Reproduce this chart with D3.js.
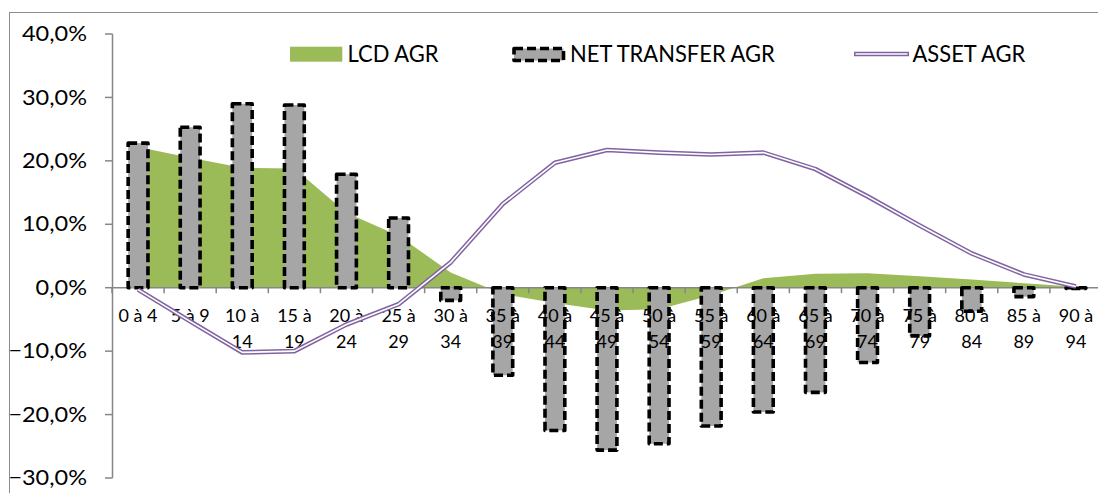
<!DOCTYPE html>
<html>
<head>
<meta charset="utf-8">
<script src="https://cdn.jsdelivr.net/npm/d3@7"></script>
<style>
html,body{margin:0;padding:0;background:#fff;overflow:hidden;}
svg{display:block;}
</style>
</head>
<body>
<svg id="chart" width="1098" height="493"></svg>
<script>
const categories = ["0 à 4","5 à 9","10 à 14","15 à 19","20 à 24","25 à 29","30 à 34","35 à 39","40 à 44","45 à 49","50 à 54","55 à 59","60 à 64","65 à 69","70 à 74","75 à 79","80 à 84","85 à 89","90 à 94"];
const lcdAgr = [22.2,20.5,18.9,18.8,11.8,8.2,2.4,-1.0,-2.4,-3.6,-3.4,-1.2,1.5,2.2,2.3,1.8,1.3,0.7,0.15];
const netTransferAgr = [22.8,25.3,29.0,28.8,17.9,11.0,-2.0,-13.8,-22.5,-25.6,-24.6,-21.8,-19.6,-16.5,-11.8,-7.6,-3.7,-1.4,-0.1];
const assetAgr = [-0.3,-5.3,-10.2,-10.0,-5.8,-2.6,4.0,13.2,19.7,21.7,21.3,21.0,21.3,18.7,14.4,9.8,5.4,2.1,0.2];
const yTicks = [-30,-20,-10,0,10,20,30,40];
const seriesNames = ["LCD AGR","NET TRANSFER AGR","ASSET AGR"];

const FONT = "Lato, 'Open Sans', sans-serif";
const GREEN = "#9BBB59", GREY = "#A6A6A6", PURPLE = "#8064A2", AXIS = "#868686";

const svg = d3.select("#chart");

const x = d3.scaleBand().domain(categories).range([112, 1102]).paddingInner(0).paddingOuter(0);
const y = d3.scaleLinear().domain([-30, 40]).range([478, 34]);
const cx = d => x(d) + x.bandwidth() / 2;

function scaleFor(size, ref, refW) {
  const p = svg.append("text").attr("font-family", FONT).attr("font-size", size).text(ref);
  const w = p.node().getComputedTextLength();
  p.remove();
  return refW / w;
}
function txt(g, s, tx, ty, size, sx, anchor) {
  return g.append("text")
    .attr("transform", `translate(${tx},${ty}) scale(${sx},1)`)
    .attr("font-family", FONT).attr("font-size", size)
    .attr("text-anchor", anchor).attr("fill", "#000").text(s);
}

// frame
svg.append("rect").attr("x", 9.5).attr("y", 12.5).attr("width", 1200).attr("height", 600)
  .attr("fill", "none").attr("stroke", "#8c8c8c").attr("stroke-width", 1);

// area (LCD AGR)
const area = d3.area().x((d, i) => cx(categories[i])).y0(y(0)).y1(d => y(d));
svg.append("path").datum(lcdAgr).attr("d", area).attr("fill", GREEN);

// y axis
const yAxis = svg.append("g");
yAxis.append("line").attr("x1", 112.5).attr("x2", 112.5).attr("y1", y(40)).attr("y2", y(-30))
  .attr("stroke", AXIS).attr("stroke-width", 1.5);
const tickSize = 20.2;
const tickSx = scaleFor(tickSize, "40,0%", 65);
yTicks.forEach(t => {
  yAxis.append("line").attr("x1", 105).attr("x2", 112.5).attr("y1", y(t)).attr("y2", y(t))
    .attr("stroke", AXIS).attr("stroke-width", 1.5);
  const lab = d3.format(".1f")(t).replace(".", ",") + "%";
  txt(yAxis, lab, 87, y(t) + 7.2, tickSize, tickSx, "end");
});

// x axis line + ticks
svg.append("line").attr("x1", 112).attr("x2", 1102).attr("y1", y(0)).attr("y2", y(0))
  .attr("stroke", AXIS).attr("stroke-width", 1.5);
categories.forEach(c => {
  svg.append("line").attr("x1", x(c)).attr("x2", x(c)).attr("y1", y(0)).attr("y2", y(0) + 5.5)
    .attr("stroke", AXIS).attr("stroke-width", 1.5);
});

// bars (NET TRANSFER AGR)
const bw = x.bandwidth() * 0.38;
svg.append("g").selectAll("rect").data(netTransferAgr).join("rect")
  .attr("x", (d, i) => cx(categories[i]) - bw / 2)
  .attr("y", d => y(Math.max(0, d)))
  .attr("width", bw)
  .attr("height", d => Math.max(0.5, Math.abs(y(d) - y(0))))
  .attr("fill", GREY).attr("stroke", "#000").attr("stroke-width", 3.6)
  .attr("stroke-dasharray", "9,4").attr("stroke-linejoin", "round");

// category labels (drawn over the bars)
const labSize = 16.9;
const labSx = scaleFor(labSize, "0 à 4", 39);
const labG = svg.append("g");
categories.forEach(c => {
  const parts = c.split(" ");
  const first = parts[0].length > 1 ? parts[0] + " " + parts[1] : c;
  txt(labG, first, cx(c), 322, labSize, labSx, "middle");
  if (parts[0].length > 1) txt(labG, parts[2], cx(c), 348, labSize, labSx, "middle");
});

// line (ASSET AGR) double line
const line = d3.line().x((d, i) => cx(categories[i])).y(d => y(d));
svg.append("path").datum(assetAgr).attr("d", line).attr("fill", "none")
  .attr("stroke", PURPLE).attr("stroke-width", 4.6).attr("stroke-linejoin", "round");
svg.append("path").datum(assetAgr).attr("d", line).attr("fill", "none")
  .attr("stroke", "#fff").attr("stroke-width", 1.6).attr("stroke-linejoin", "round");

// legend
const lg = svg.append("g");
const legSize = 23.4;
const legSx = scaleFor(legSize, "LCD AGR", 91);
lg.append("rect").attr("x", 290).attr("y", 46.7).attr("width", 52.3).attr("height", 15).attr("fill", GREEN);
txt(lg, seriesNames[0], 347.5, 61.7, legSize, legSx, "start");
lg.append("rect").attr("x", 514).attr("y", 48.5).attr("width", 49.5).attr("height", 12)
  .attr("fill", GREY).attr("stroke", "#000").attr("stroke-width", 3.6)
  .attr("stroke-dasharray", "9,4").attr("stroke-linejoin", "round");
txt(lg, seriesNames[1], 570, 61.7, legSize, legSx, "start");
lg.append("line").attr("x1", 854).attr("x2", 909).attr("y1", 54).attr("y2", 54)
  .attr("stroke", PURPLE).attr("stroke-width", 4.6);
lg.append("line").attr("x1", 855.5).attr("x2", 907.5).attr("y1", 54).attr("y2", 54)
  .attr("stroke", "#fff").attr("stroke-width", 1.6);
txt(lg, seriesNames[2], 912.5, 61.7, legSize, legSx, "start");
</script>
</body>
</html>
